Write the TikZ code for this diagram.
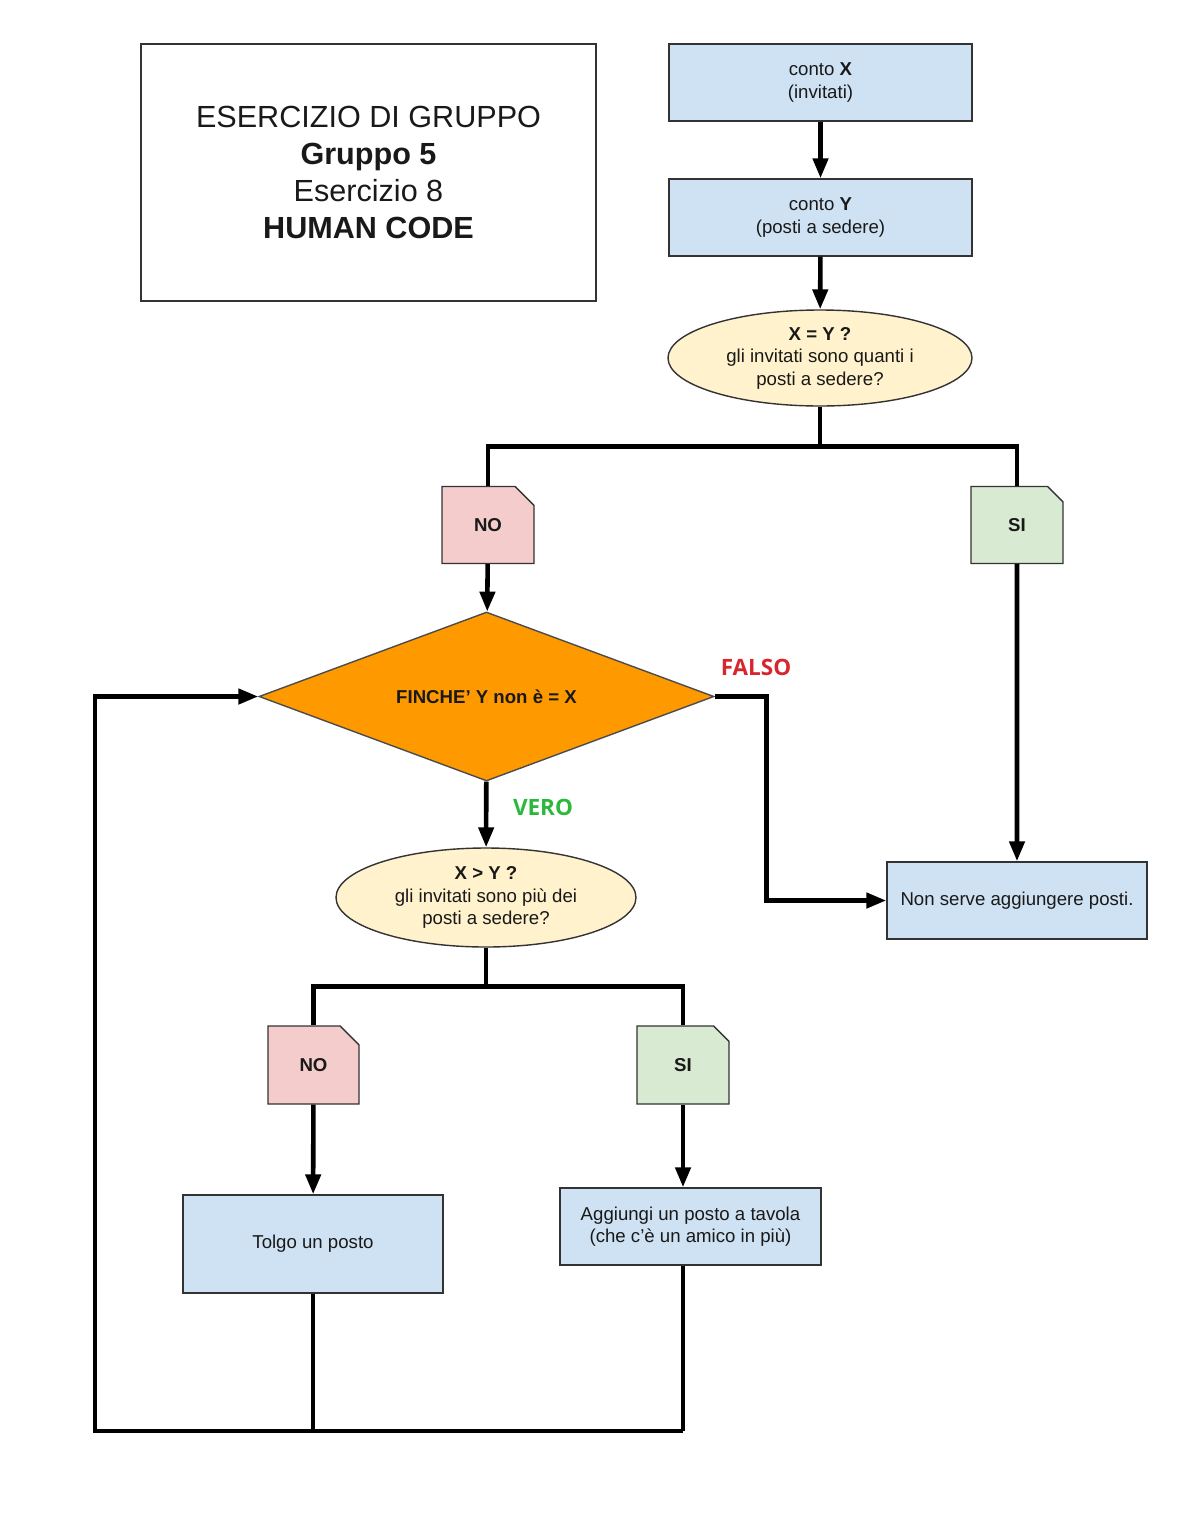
\documentclass[tikz,border=0pt]{standalone}
\usepackage{fontspec}
\setmainfont{Liberation Sans}
\newfontfamily\esitofont{Open Sans}
\usetikzlibrary{shapes.geometric,shapes.misc,arrows.meta}

\definecolor{boxblue}{HTML}{CFE2F3}
\definecolor{nopink}{HTML}{F4CCCC}
\definecolor{sigreen}{HTML}{D9EAD3}
\definecolor{askcream}{HTML}{FFF2CC}
\definecolor{looporange}{HTML}{FF9900}
\definecolor{falsored}{HTML}{D8262F}
\definecolor{verogreen}{HTML}{2CB83C}

\begin{document}
\begin{tikzpicture}[
    every node/.style={font=\fontsize{5.3}{6.4}\selectfont, align=center, text=black!90},
    proc/.style={draw=black!80, line width=0.4pt, fill=boxblue, minimum width=3.03cm, minimum height=0.77cm, inner sep=0},
    ask/.style={ellipse, draw=black!80, line width=0.4pt, fill=askcream, minimum width=3.04cm, minimum height=0.96cm, inner sep=0},
    tag/.style={chamfered rectangle, chamfered rectangle corners=north east, chamfered rectangle xsep=0.12cm,
      draw=black!80, line width=0.4pt, minimum width=0.92cm, minimum height=0.77cm, inner sep=0,
      font=\fontsize{5.3}{6.4}\selectfont\bfseries},
    wire/.style={line width=1.3pt},
    flow/.style={wire, -{Triangle[length=0.2cm,width=0.15cm]}},
    esito/.style={font=\esitofont\fontsize{6.4}{7.5}\selectfont\bfseries}
  ]
  \useasboundingbox (0,0) rectangle (11.93,-15.18);

  % titolo
  \node[draw=black!80, line width=0.5pt, minimum width=4.55cm, minimum height=2.57cm,
    font=\fontsize{8.7}{10.5}\selectfont] (titolo) at (3.685,-1.725)
    {ESERCIZIO DI GRUPPO\\\textbf{Gruppo 5}\\Esercizio 8\\\textbf{HUMAN CODE}};

  \node[proc] (contox) at (8.205,-0.825) {conto \textbf{X}\\(invitati)};
  \node[proc] (contoy) at (8.205,-2.175) {conto \textbf{Y}\\(posti a sedere)};
  \node[ask] (uguale) at (8.20,-3.58) {\textbf{X = Y ?}\\gli invitati sono quanti i\\posti a sedere?};

  \node[tag, fill=nopink] (no1) at (4.88,-5.25) {NO};
  \node[tag, fill=sigreen] (si1) at (10.17,-5.25) {SI};

  \node[diamond, aspect=2.7, draw=black!70, line width=0.4pt, fill=looporange, minimum width=4.55cm,
    minimum height=1.69cm, inner sep=0, font=\fontsize{5.3}{6.4}\selectfont\bfseries] (finche) at (4.865,-6.965)
    {FINCHE’ Y non è = X};

  \node[proc, minimum width=2.6cm] (nonserve) at (10.17,-9.005) {Non serve aggiungere posti.};
  \node[ask, minimum width=3.0cm, minimum height=0.99cm] (maggiore) at (4.86,-8.975)
    {\textbf{X > Y ?}\\gli invitati sono più dei\\posti a sedere?};

  \node[tag, fill=nopink, minimum width=0.91cm, minimum height=0.78cm] (no2) at (3.135,-10.65) {NO};
  \node[tag, fill=sigreen, minimum width=0.92cm, minimum height=0.78cm] (si2) at (6.83,-10.65) {SI};

  \node[proc, minimum width=2.6cm, minimum height=0.98cm] (tolgo) at (3.13,-12.44) {Tolgo un posto};
  \node[proc, minimum width=2.61cm] (aggiungi) at (6.905,-12.265) {Aggiungi un posto a tavola\\(che c’è un amico in più)};

  \node[esito, text=falsored] (falso) at (7.56,-6.67) {FALSO};
  \node[esito, text=verogreen] (vero) at (5.43,-8.07) {VERO};

  % collegamenti
  \draw[flow] (contox) -- (contoy);
  \draw[flow] (contoy) -- (uguale);
  \draw[wire] (uguale.south) -- ++(0,-0.4) -| (no1.north);
  \draw[wire] (uguale.south) -- ++(0,-0.4) -| (si1.north);
  \draw[flow] (no1) -- (finche);
  \draw[flow] (si1) -- (nonserve);
  \draw[flow] (finche.east) -- ++(0.52,0) |- (nonserve.west);
  \draw[flow] (finche) -- (maggiore);
  \draw[wire] (maggiore.south) -- ++(0,-0.39) -| (no2.north);
  \draw[wire] (maggiore.south) -- ++(0,-0.39) -| (si2.north);
  \draw[flow] (no2) -- (tolgo);
  \draw[flow] (si2.south) -- (si2.south |- aggiungi.north);

  % ritorno al ciclo
  \coordinate (ritorno) at (0.95,-14.31);
  \draw[wire] (tolgo.south) -- (tolgo.south |- ritorno);
  \draw[wire] (si2.south |- aggiungi.south) -- (si2.south |- ritorno);
  \draw[flow] (si2.south |- ritorno) -- (ritorno) |- (finche.west);
\end{tikzpicture}
\end{document}
